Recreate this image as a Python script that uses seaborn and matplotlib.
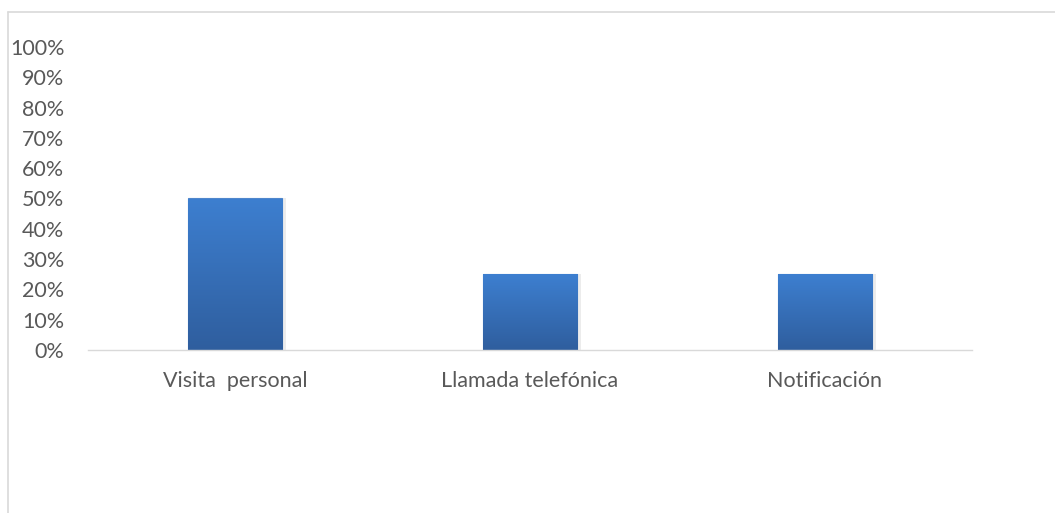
import numpy as np
import pandas as pd
import matplotlib
matplotlib.use("Agg")
import matplotlib.pyplot as plt
from matplotlib.lines import Line2D
from matplotlib.colors import LinearSegmentedColormap
from matplotlib.ticker import MultipleLocator, FuncFormatter
import seaborn as sns

categories = ["Visita  personal", "Llamada telefónica", "Notificación"]
values = [0.50, 0.25, 0.25]

sns.set_theme(style="white")
plt.rcParams["font.family"] = ["Lato", "DejaVu Sans"]

fig = plt.figure(figsize=(10.55, 5.13), dpi=100)
ax = fig.add_axes([88 / 1055, 163 / 513, 884 / 1055, 303 / 513])

df = pd.DataFrame({"cat": categories, "val": values})
sns.barplot(data=df, x="cat", y="val", ax=ax, color="#3572c0", width=0.32,
            saturation=1, edgecolor="#4f86cc", linewidth=0.8)

ax.set_ylim(0, 1.0)
ax.set_xlim(-0.5, 2.5)
ax.yaxis.set_major_locator(MultipleLocator(0.1))
ax.yaxis.set_major_formatter(FuncFormatter(lambda v, p: f"{v * 100:.0f}%"))
ax.set_xlabel("")
ax.set_ylabel("")
ax.tick_params(axis="y", length=0, pad=17, labelsize=15.5, labelcolor="#595959")
ax.tick_params(axis="x", length=0, pad=15, labelsize=15.5, labelcolor="#595959")

for side in ["top", "right", "left"]:
    ax.spines[side].set_visible(False)
ax.spines["bottom"].set_color("#d9d9d9")
ax.spines["bottom"].set_linewidth(1.0)

# vertical gradient fill on each bar, lighter at the top
cmap = LinearSegmentedColormap.from_list("barfill", ["#2f5e9e", "#3d7fd0"])
grad = np.linspace(0, 1, 256).reshape(-1, 1)
for patch in ax.patches:
    x0, y0 = patch.get_x(), patch.get_y()
    w, h = patch.get_width(), patch.get_height()
    # soft shadow on the right side
    ax.add_patch(plt.Rectangle((x0 + w, y0), w * 0.04, h, color="#ececec",
                               zorder=patch.get_zorder() - 0.1, lw=0))
    im = ax.imshow(grad, extent=[x0, x0 + w, y0, y0 + h], origin="lower",
                   cmap=cmap, aspect="auto", zorder=patch.get_zorder() + 0.1)
    im.set_clip_path(patch)
ax.set_xlim(-0.5, 2.5)
ax.set_ylim(0, 1.0)

# outer chart border (top and left edges)
fig.add_artist(Line2D([8 / 1055, 1.0], [1 - 12 / 513, 1 - 12 / 513],
                      transform=fig.transFigure, color="#d9d9d9", lw=1.2))
fig.add_artist(Line2D([8 / 1055, 8 / 1055], [0, 1 - 12 / 513],
                      transform=fig.transFigure, color="#d9d9d9", lw=1.2))

fig.savefig("out.png", dpi=100, facecolor="white")
